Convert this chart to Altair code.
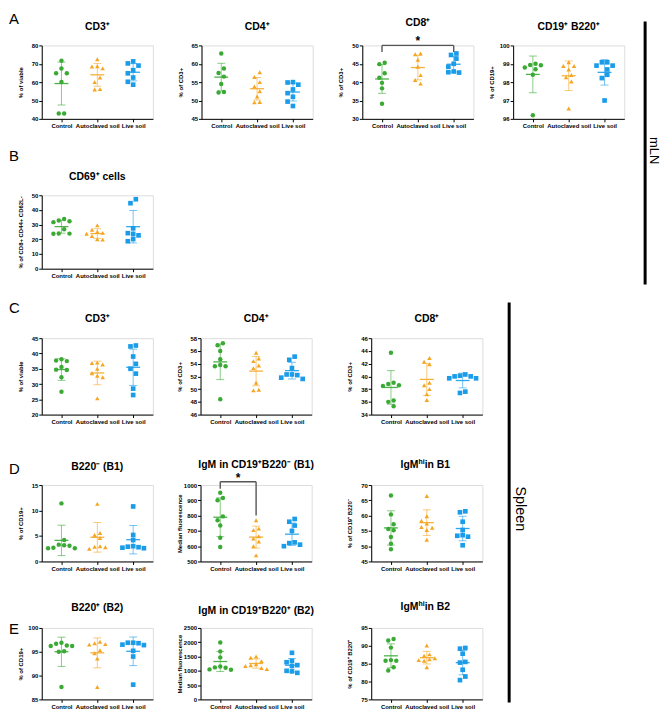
import altair as alt
import pandas as pd

FONT = "Liberation Sans"
GROUPS = ["Control", "Autoclaved soil", "Live soil"]
COLORS = ["#3aaa35", "#f5a623", "#1b9ce9"]
SHAPES = ["circle", "triangle-up", "square"]
SIZES = [20, 22, 24]

A_CD3 = [[71.7, 67.4, 64.8, 64.8, 60.1, 42.9, 42.9],
         [72.5, 68.7, 68.5, 67.5, 62.5, 60.0, 56.2, 56.0],
         [71.3, 70.2, 69.0, 66.5, 64.8, 62.5, 60.2, 58.6]]
A_CD4 = [[62.8, 58.7, 57.5, 56.5, 54.5, 52.3, 52.2],
         [57.7, 56.4, 55.0, 53.8, 52.5, 51.1, 49.6, 49.5],
         [55.0, 54.9, 54.3, 53.0, 52.0, 51.0, 49.7, 48.5]]
A_CD8 = [[45.3, 44.9, 42.4, 41.2, 39.8, 38.3, 34.1],
         [47.8, 47.6, 46.1, 44.2, 41.9, 40.6, 39.6],
         [47.8, 47.4, 46.4, 45.0, 44.2, 42.9, 42.7, 42.6]]
A_CD19 = [[99.0, 98.93, 98.92, 98.8, 98.7, 98.4, 96.2],
          [99.08, 98.88, 98.88, 98.69, 98.39, 98.26, 98.03, 96.56],
          [99.08, 99.08, 98.9, 98.9, 98.69, 98.4, 98.22, 97.0]]
B_CD69 = [[33.9, 32.8, 32.3, 31.7, 26.8, 24.0, 23.9, 23.8],
          [29.5, 26.5, 25.2, 24.4, 23.8, 22.3, 20.0, 19.8],
          [47.3, 44.6, 27.5, 24.2, 23.7, 22.7, 20.2, 18.7]]
C_CD3 = [[38.1, 37.7, 37.5, 35.6, 34.7, 34.6, 32.2, 27.5],
         [37.0, 36.9, 36.4, 35.0, 33.5, 32.7, 32.2, 25.3],
         [42.6, 42.3, 39.0, 36.6, 35.0, 33.4, 28.5, 26.4]]
C_CD4 = [[57.2, 56.9, 56.0, 54.7, 53.8, 53.6, 53.6, 48.4],
         [55.7, 54.8, 54.4, 53.7, 53.3, 51.0, 49.9, 49.8],
         [55.1, 54.6, 53.3, 52.3, 52.3, 52.2, 51.8, 51.6]]
C_CD8 = [[43.7, 39.0, 38.8, 38.6, 38.5, 36.2, 36.0, 35.3],
         [42.9, 42.3, 41.9, 39.0, 38.6, 38.0, 37.2, 36.3],
         [40.3, 40.1, 40.0, 40.0, 39.7, 39.7, 37.6, 37.4]]
D_B1 = [[11.4, 4.2, 3.3, 3.2, 3.1, 2.7, 2.6, 2.6],
        [11.3, 5.6, 5.2, 4.6, 3.0, 2.9, 2.8, 2.5],
        [10.8, 5.2, 4.2, 3.0, 2.9, 2.8, 2.7, 2.6]]
D_IGM = [[950, 915, 900, 795, 770, 735, 655, 595],
         [770, 715, 705, 665, 650, 630, 600, 540],
         [778, 760, 735, 700, 625, 620, 610, 600]]
D_IGMHI = [[66.6, 60.4, 57.2, 55.6, 55.2, 53.0, 50.8, 49.0],
           [66.4, 59.8, 58.3, 57.4, 56.3, 56.0, 55.3, 52.1],
           [61.4, 61.1, 58.0, 55.3, 53.6, 53.4, 53.1, 50.3]]
E_B2 = [[96.9, 96.7, 96.3, 96.2, 96.2, 95.1, 95.0, 87.6],
        [97.1, 96.8, 96.6, 96.5, 95.3, 94.7, 93.6, 87.6],
        [96.9, 96.9, 96.8, 96.5, 96.4, 95.2, 94.0, 88.1]]
E_IGM = [[1990, 1680, 1470, 1150, 1120, 1110, 1050, 1040],
         [1500, 1460, 1340, 1230, 1190, 1170, 1100, 1060],
         [1630, 1350, 1300, 1200, 1170, 1000, 980, 930]]
E_IGMHI = [[91.9, 91.5, 89.5, 86.0, 85.8, 85.8, 84.0, 83.1],
           [90.1, 87.6, 87.2, 86.5, 86.2, 86.0, 85.8, 84.0],
           [89.4, 89.2, 87.8, 85.5, 85.3, 83.3, 81.4, 80.4]]

BR_A_CD8 = (0, 2, 50.0, 48.2, 48.2, "*")
BR_D_IGM = (0, 1, 1022, 975, 800, "*")

W = 112
XDOM = [-0.55, 2.55]
ONE = pd.DataFrame({"k": [0]})
TFS = 10.5
SFS = 7
AW = {"I": .278, "g": .611, "M": .833, "h": .611, "i": .278, " ": .278, "n": .611,
      "B": .722, "1": .556, "2": .556}


def tw(s, fs):
    return sum(AW.get(c, .6) for c in s) * fs


def swarm(vals, ppu, gap=5.0, step=5.4):
    order = sorted(range(len(vals)), key=lambda i: -vals[i])
    slot = {}
    for i in order:
        for s in [0, -1, 1, -2, 2, -3, 3]:
            ok = True
            for j, sj in slot.items():
                dx = (s - sj) * step
                dy = (vals[i] - vals[j]) * ppu
                if (dx * dx + dy * dy) ** 0.5 < gap:
                    ok = False
                    break
            if ok:
                slot[i] = s
                break
    clusters, cur = [], [order[0]]
    for a, b in zip(order, order[1:]):
        if abs(vals[a] - vals[b]) * ppu < gap:
            cur.append(b)
        else:
            clusters.append(cur)
            cur = [b]
    clusters.append(cur)
    for c in clusters:
        m = round(2 * sum(slot[i] for i in c) / len(c)) / 2
        for i in c:
            slot[i] -= m
    return [slot[i] * step for i in range(len(vals))]


def title_layers(title, toff):
    if isinstance(title, str):
        return [alt.Chart(ONE).mark_text(align="center", baseline="alphabetic", fontSize=TFS,
                                         fontWeight="bold", font=FONT, color="black").encode(
            x=alt.value(W / 2), y=alt.value(-toff), text=alt.value(title))]
    total = sum(tw(t, SFS if sup else TFS) for t, sup in title)
    x = W / 2 - total / 2
    out = []
    for t, sup in title:
        fs = SFS if sup else TFS
        out.append(alt.Chart(ONE).mark_text(align="left", baseline="alphabetic", fontSize=fs,
                                            fontWeight="bold", font=FONT, color="black").encode(
            x=alt.value(x), y=alt.value(-toff - (4 if sup else 0)), text=alt.value(t)))
        x += tw(t, fs)
    return out


def frame(x0, x1, y0, y1):
    return alt.Chart(ONE).mark_rule(strokeOpacity=0).encode(
        x=alt.value(x0), x2=alt.value(x1), y=alt.value(y0), y2=alt.value(y1))


def panel(title, ytitle, dom, ticks, data, H, Lp, Rp, T, B, toff=16,
          letter=None, ly=0, bracket=None):
    ppu = H / (dom[1] - dom[0])
    xppu = W / (XDOM[1] - XDOM[0])
    rows = []
    for g, vals in enumerate(data):
        offs = swarm(vals, ppu)
        for v, o in zip(vals, offs):
            rows.append({"g": g, "grp": GROUPS[g], "v": v, "xpos": g + o / xppu})
    df = pd.DataFrame(rows)
    labexpr = "[" + ",".join("'%s'" % s for s in GROUPS) + "][datum.value]"
    xax = alt.Axis(values=[0, 1, 2], labelExpr=labexpr, title=None, grid=False,
                   tickSize=3, labelFontSize=6, labelFontWeight="bold", labelPadding=1,
                   labelOverlap=False, labelFlush=False, domainColor="black",
                   tickColor="black", labelColor="black", labelFont=FONT)
    yax = alt.Axis(values=ticks, title=ytitle, titleX=-18.5, titleFontSize=6,
                   titleFontWeight="bold", labelFontSize=6, labelFontWeight="bold",
                   tickSize=3, labelPadding=1, format="d", grid=False,
                   domainColor="black", tickColor="black", labelColor="black",
                   titleColor="black", labelFont=FONT, titleFont=FONT)
    xs = alt.Scale(domain=XDOM, nice=False, zero=False)
    ys = alt.Scale(domain=dom, nice=False, zero=False)
    cs = alt.Color("grp:N", scale=alt.Scale(domain=GROUPS, range=COLORS), legend=None)

    base = alt.Chart(df)
    stats = base.transform_aggregate(
        m="mean(v)", sd="stdev(v)", groupby=["g", "grp"]
    ).transform_calculate(lo="datum.m - datum.sd", hi="datum.m + datum.sd")

    layers = [
        frame(-Lp, W + Rp, -T, H + B),
        stats.mark_rule(strokeWidth=1, opacity=0.6).encode(
            x=alt.X("g:Q", scale=xs, axis=xax), y=alt.Y("lo:Q", scale=ys, axis=yax),
            y2="hi:Q", color=cs),
        stats.mark_tick(orient="horizontal", size=8, thickness=1, opacity=0.6).encode(
            x=alt.X("g:Q", scale=xs, axis=xax), y=alt.Y("hi:Q", scale=ys, axis=yax), color=cs),
        stats.mark_tick(orient="horizontal", size=8, thickness=1, opacity=0.6).encode(
            x=alt.X("g:Q", scale=xs, axis=xax), y=alt.Y("lo:Q", scale=ys, axis=yax), color=cs),
        stats.mark_tick(orient="horizontal", size=14, thickness=1.3, opacity=0.9).encode(
            x=alt.X("g:Q", scale=xs, axis=xax), y=alt.Y("m:Q", scale=ys, axis=yax), color=cs),
        base.mark_point(filled=True, opacity=1, strokeWidth=0).encode(
            x=alt.X("xpos:Q", scale=xs, axis=xax), y=alt.Y("v:Q", scale=ys, axis=yax),
            color=cs,
            shape=alt.Shape("grp:N", scale=alt.Scale(domain=GROUPS, range=SHAPES), legend=None),
            size=alt.Size("grp:N", scale=alt.Scale(domain=GROUPS, range=SIZES), legend=None)),
    ]
    if bracket is not None:
        ga, gb, top, ea, eb, lab = bracket
        seg = pd.DataFrame({"x1": [ga, ga, gb], "x2": [gb, ga, gb],
                            "y1": [top, top, top], "y2": [top, ea, eb]})
        layers.append(alt.Chart(seg).mark_rule(color="#555555", strokeWidth=1.4).encode(
            x=alt.X("x1:Q", scale=xs, axis=xax), x2="x2:Q",
            y=alt.Y("y1:Q", scale=ys, axis=yax), y2="y2:Q"))
        st = pd.DataFrame({"x": [(ga + gb) / 2], "y": [top], "t": [lab]})
        layers.append(alt.Chart(st).mark_text(fontSize=12, fontWeight="bold", dy=-4,
                                              baseline="middle", font=FONT).encode(
            x=alt.X("x:Q", scale=xs, axis=xax), y=alt.Y("y:Q", scale=ys, axis=yax),
            text="t:N"))
    layers += title_layers(title, toff)
    if letter is not None:
        layers.append(alt.Chart(ONE).mark_text(align="left", baseline="middle",
                                               fontSize=15, font=FONT).encode(
            x=alt.value(-Lp), y=alt.value(ly), text=alt.value(letter)))
    return alt.layer(*layers).properties(width=W, height=H)


def side(label, y0, y1, ytext, fsize, tx, right):
    return alt.layer(
        frame(-2, right, y0, y1),
        alt.Chart(ONE).mark_rule(strokeWidth=3, color="black").encode(
            x=alt.value(0), y=alt.value(y0), y2=alt.value(y1)),
        alt.Chart(ONE).mark_text(angle=90, fontSize=fsize, font=FONT, align="center",
                                 baseline="middle").encode(
            x=alt.value(tx), y=alt.value(ytext), text=alt.value(label)),
    ).properties(width=12, height=20,
                 view=alt.ViewBackground(stroke="transparent", strokeWidth=0, strokeOpacity=0))


# Row A: plot top 42, height 74
a1 = panel("CD3\u207a", "% of viable", [40, 80], [40, 50, 60, 70, 80], A_CD3, 74, 33, 17, 34, 27,
           letter="A", ly=-27)
a2 = panel("CD4\u207a", "% of CD3+", [45, 65], [45, 50, 55, 60, 65], A_CD4, 74, 30, 18, 34, 27)
a3 = panel("CD8\u207a", "% of CD3+", [30, 50], [30, 35, 40, 45, 50], A_CD8, 74, 30, 8, 34, 27,
           toff=20, bracket=BR_A_CD8)
a4 = panel("CD19\u207a B220\u207a", "% of CD19+", [96, 100], [96, 97, 98, 99, 100], A_CD19,
           74, 30, 0, 34, 27)
# Row B: plot top 191
b1 = panel("CD69\u207a cells", "% of CD8+ CD44+ CD62L-", [0, 50], [0, 10, 20, 30, 40, 50],
           B_CD69, 74, 33, 0, 48, 30, toff=15, letter="B", ly=-40)
# Row C: plot top 333
c1 = panel("CD3\u207a", "% of viable", [20, 45], [20, 25, 30, 35, 40, 45], C_CD3, 77, 33, 16, 38, 37,
           letter="C", ly=-30)
c2 = panel("CD4\u207a", "% of CD3+", [46, 58], [46, 48, 50, 52, 54, 56, 58], C_CD4, 77, 30, 28, 38, 37)
c3 = panel("CD8\u207a", "% of CD3+", [34, 46], [34, 36, 38, 40, 42, 44, 46], C_CD8, 77, 30, 0, 38, 37)
# Row D: plot top 479
d1 = panel("B220\u207b (B1)", "% of CD19+", [0, 15], [0, 5, 10, 15], D_B1, 77, 33, 16, 32, 31,
           toff=15, letter="D", ly=-16)
d2 = panel("IgM in CD19\u207aB220\u207b (B1)", "Median fluorescence", [500, 1000],
           [500, 600, 700, 800, 900, 1000], D_IGM, 77, 30, 28, 32, 31, toff=17, bracket=BR_D_IGM)
d3 = panel([("IgM", False), ("hi", True), (" in B1", False)], "% of CD19\u207a B220\u207b",
           [45, 70], [45, 50, 55, 60, 65, 70], D_IGMHI, 77, 30, 0, 32, 31, toff=17)
# Row E: plot top 621
e1 = panel("B220\u207a (B2)", "% of CD19+", [85, 100], [85, 90, 95, 100], E_B2, 72, 33, 16, 34, 9,
           toff=17, letter="E", ly=1)
e2 = panel("IgM in CD19\u207aB220\u207a (B2)", "Median fluorescence", [0, 2500],
           [0, 500, 1000, 1500, 2000, 2500], E_IGM, 72, 30, 28, 34, 9, toff=14)
e3 = panel([("IgM", False), ("hi", True), (" in B2", False)], "% of CD19\u207a B220\u207a",
           [75, 95], [75, 80, 85, 90, 95], E_IGMHI, 72, 30, 0, 34, 9, toff=18)

blockAB = alt.vconcat(alt.hconcat(a1, a2, a3, a4, spacing=0), b1, spacing=0)
top = alt.hconcat(blockAB, side("mLN", -24, 241, 106, 13, 9, 16), spacing=18)
blockCDE = alt.vconcat(alt.hconcat(c1, c2, c3, spacing=0),
                       alt.hconcat(d1, d2, d3, spacing=0),
                       alt.hconcat(e1, e2, e3, spacing=0), spacing=0)
bottom = alt.hconcat(blockCDE, side("Spleen", -36, 367, 172, 14.5, 11, 18), spacing=24)

chart = alt.vconcat(top, bottom, spacing=0).properties(
    padding=0, background="white"
).configure_view(strokeWidth=0, stroke="transparent").configure(font=FONT)

chart.save("out.html", embed_options={"renderer": "svg", "actions": False})
